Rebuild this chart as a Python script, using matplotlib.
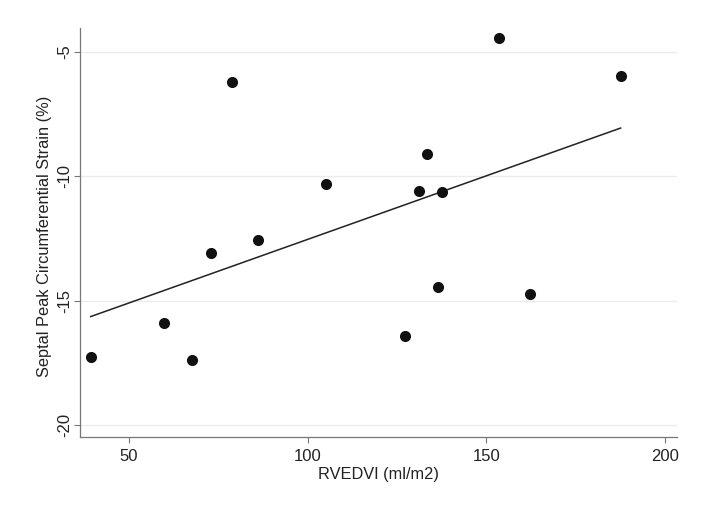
import matplotlib
matplotlib.use("Agg")
import matplotlib.pyplot as plt
import numpy as np

plt.rcParams["font.family"] = ["Liberation Sans", "DejaVu Sans"]

# values
rvedvi = [39.3, 59.8, 67.7, 73.0, 78.9, 86.0, 105.1, 127.2, 131.2, 133.4,
          137.6, 136.5, 153.7, 162.1, 187.6]
strain = [-17.25, -15.88, -17.37, -13.07, -6.20, -12.55, -10.30, -16.41,
          -10.58, -9.10, -10.62, -14.44, -4.44, -14.72, -5.96]
x_ticks = [50, 100, 150, 200]
y_ticks = [-20, -15, -10, -5]

x = np.array(rvedvi)
y = np.array(strain)
slope, intercept = np.polyfit(x, y, 1)
fit_x = np.array([x.min(), x.max()])
fit_y = intercept + slope * fit_x

fig = plt.figure(figsize=(7.09, 5.2), dpi=100)
ax = fig.add_axes([0.1128, 0.1596, 0.955 - 0.1128, 0.946 - 0.1596])

ax.set_xlim(36.3, 203.4)
ax.set_ylim(-20.48, -4.04)

for t in y_ticks:
    ax.axhline(t, color="#ebebeb", lw=1.0, zorder=0)

ax.scatter(x, y, s=64, color="#111111", zorder=3, linewidths=0)
ax.plot(fit_x, fit_y, color="#222222", lw=1.1, zorder=2)

ax.set_xticks(x_ticks)
ax.set_yticks(y_ticks)
ax.set_yticklabels([str(t) for t in y_ticks], rotation=90, va="center")
ax.tick_params(axis="both", direction="out", length=4.5, width=0.8,
               color="#777777", labelsize=12, labelcolor="#222222")
ax.tick_params(axis="x", pad=4)
ax.tick_params(axis="y", pad=1)

for side in ["top", "right"]:
    ax.spines[side].set_visible(False)
for side in ["left", "bottom"]:
    ax.spines[side].set_color("#777777")
    ax.spines[side].set_linewidth(0.9)

ax.set_xlabel("RVEDVI (ml/m2)", fontsize=11.8, color="#222222", labelpad=2)
ax.set_ylabel("Septal Peak Circumferential Strain (%)", fontsize=11.8,
              color="#222222")
ax.yaxis.set_label_coords(-0.047, 0.49)

fig.savefig("out.png", dpi=100)
